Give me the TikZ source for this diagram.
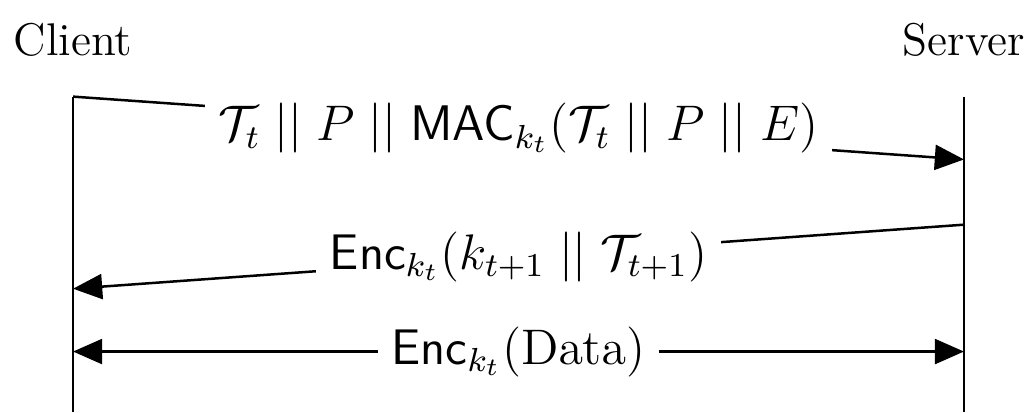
\documentclass[tikz,border=0pt]{standalone}
\usetikzlibrary{arrows.meta}
\newcommand{\cat}{\mathrel{||}}
\begin{document}
\begin{tikzpicture}[x=1cm,y=1cm]
\tikzset{party/.style={font=\fontsize{11}{13}\selectfont}, life/.style={semithick}, msg/.style={semithick, -{Triangle[length=7pt,width=6pt]}}, lbl/.style={fill=white, font=\large}}
\useasboundingbox (0,0) rectangle (8.67,3.475);
% parties
\node[party] (cl) at (0.616,3.14) {Client};
\node[party] (sv) at (8.13,3.14) {Server};
\coordinate (ctop) at (0.616,2.66);
\coordinate (cbot) at (0.616,0);
\coordinate (stop) at (8.13,2.66);
\coordinate (sbot) at (8.13,0);
\draw[life] (ctop) -- (cbot);
\draw[life] (stop) -- (sbot);
% messages
\coordinate (s1) at (8.13,2.13);
\coordinate (s2) at (8.13,1.58);
\coordinate (c2) at (0.616,1.04);
\coordinate (c3) at (0.616,0.51);
\coordinate (s3) at (8.13,0.51);
\draw[msg] (ctop) -- node[lbl] (m1) {$\mathcal{T}_t \cat P \cat \mathsf{MAC}_{k_t}(\mathcal{T}_t \cat P \cat E)$} (s1);
\draw[msg] (s2) -- node[lbl] (m2) {$\mathsf{Enc}_{k_t}(k_{t+1} \cat \mathcal{T}_{t+1})$} (c2);
\draw[msg, {Triangle[length=7pt,width=6pt]}-{Triangle[length=7pt,width=6pt]}] (c3) -- node[lbl] (m3) {$\mathsf{Enc}_{k_t}(\mathrm{Data})$} (s3);
\end{tikzpicture}
\end{document}
